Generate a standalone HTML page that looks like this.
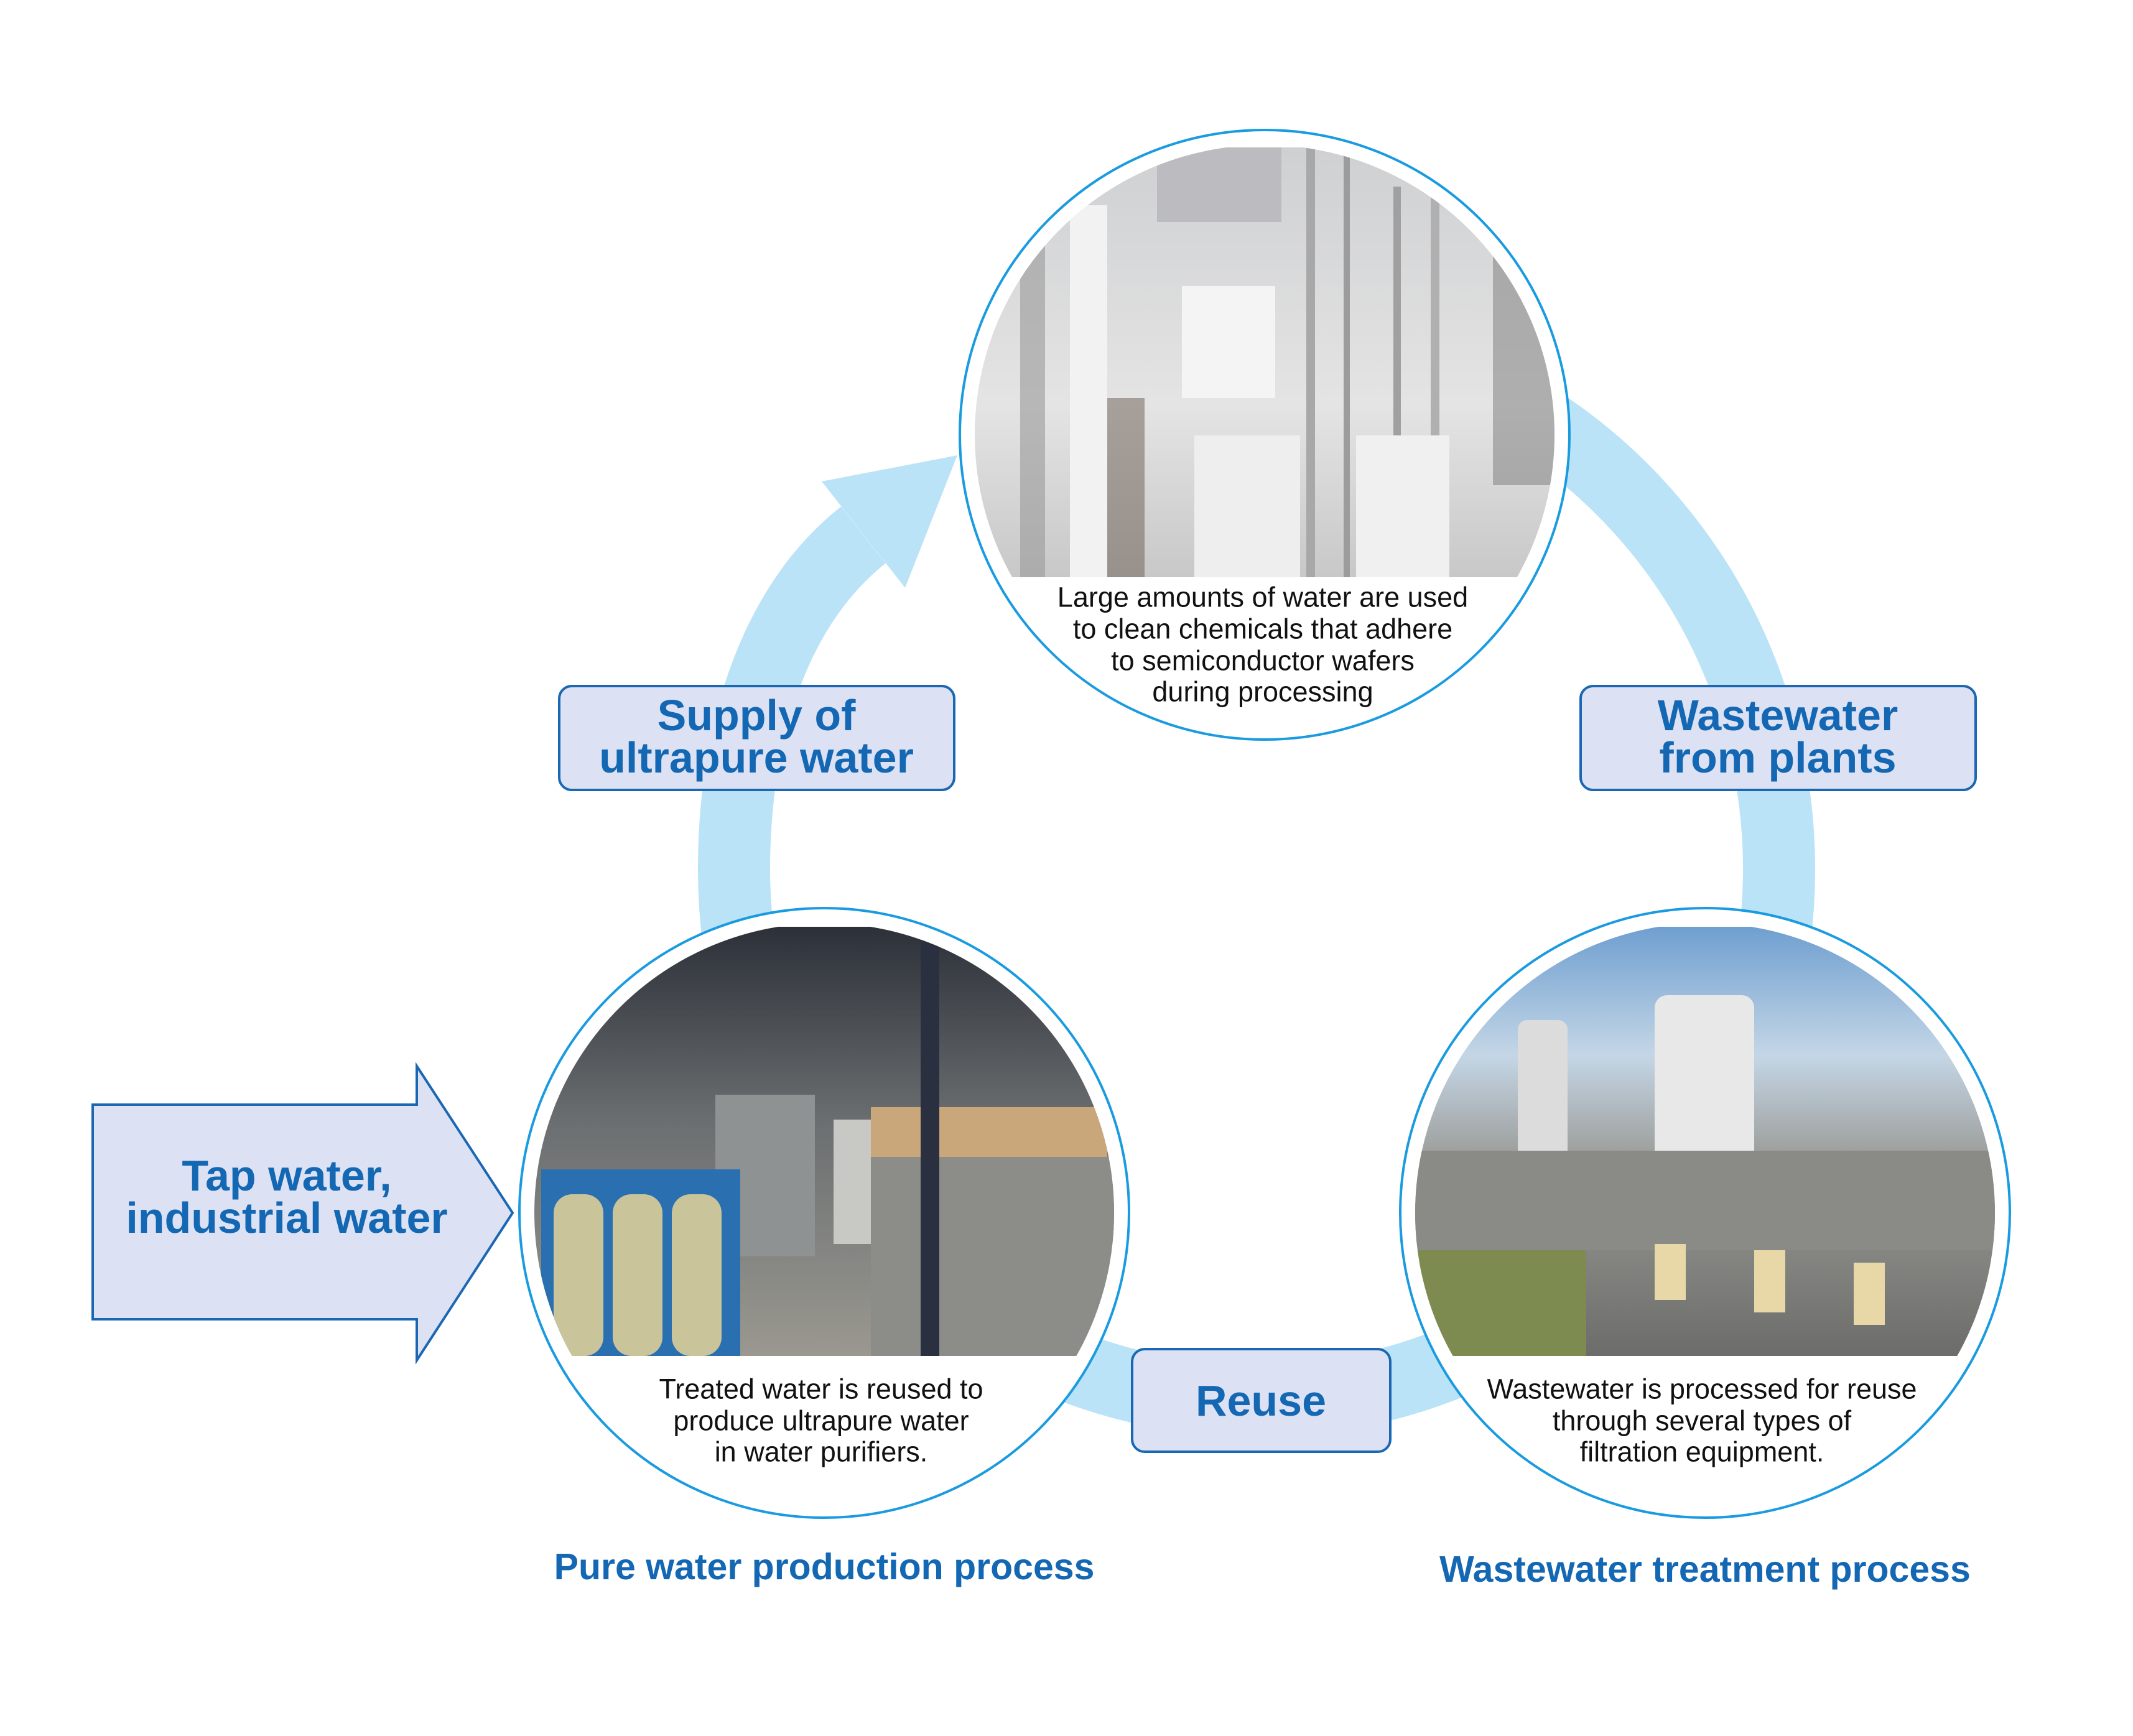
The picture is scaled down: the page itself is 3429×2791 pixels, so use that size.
<!DOCTYPE html>
<html><head><meta charset="utf-8"><style>html,body{margin:0;padding:0;background:#fff}svg{display:block}</style></head>
<body>
<svg width="3429" height="2791" viewBox="0 0 3429 2791" xmlns="http://www.w3.org/2000/svg" font-family="'Liberation Sans', sans-serif">
<defs>
<clipPath id="cT"><circle cx="2033" cy="699" r="466"/></clipPath>
<clipPath id="cL"><circle cx="1325" cy="1950" r="466"/></clipPath>
<clipPath id="cR"><circle cx="2741" cy="1950" r="466"/></clipPath>
<linearGradient id="gT" x1="0" y1="0" x2="0" y2="1"><stop offset="0" stop-color="#cfd0d2"/><stop offset="0.6" stop-color="#e4e4e4"/><stop offset="1" stop-color="#c8c8c8"/></linearGradient>
<linearGradient id="gL" x1="0" y1="0" x2="0" y2="1"><stop offset="0" stop-color="#2c3038"/><stop offset="0.45" stop-color="#6a6e70"/><stop offset="1" stop-color="#9a9890"/></linearGradient>
<linearGradient id="gR" x1="0" y1="0" x2="0" y2="1"><stop offset="0" stop-color="#6f9fd0"/><stop offset="0.3" stop-color="#c4d6e6"/><stop offset="0.55" stop-color="#9a9a96"/><stop offset="1" stop-color="#6c6c6a"/></linearGradient>
</defs>

<!-- cycle ring -->
<path d="M 2440 657 A 840 855 0 1 1 1180 1397 C 1180 1160 1254 965 1388 860" fill="none" stroke="#bae3f7" stroke-width="116"/>
<polygon points="1321,774 1539,732 1455,945" fill="#bae3f7"/>

<!-- tap water arrow -->
<polygon points="149,1776 670,1776 670,1714 824,1950 670,2187 670,2121 149,2121" fill="#dce2f3" stroke="#1a67b4" stroke-width="4"/>
<text x="461" y="1890" text-anchor="middle" dominant-baseline="central" font-size="70" font-weight="bold" fill="#1467b3">Tap water,</text>
<text x="461" y="1958" text-anchor="middle" dominant-baseline="central" font-size="70" font-weight="bold" fill="#1467b3">industrial water</text>

<!-- top circle -->
<circle cx="2033" cy="699" r="490" fill="#fff" stroke="#1a9be0" stroke-width="4"/>
<g clip-path="url(#cT)">
<rect x="1540" y="237" width="990" height="691" fill="url(#gT)"/>
<rect x="1640" y="300" width="40" height="628" fill="#9a9a9a" opacity="0.6"/>
<rect x="1720" y="330" width="60" height="600" fill="#f2f2f2"/>
<rect x="1860" y="237" width="200" height="120" fill="#bcbcc0"/>
<rect x="1900" y="460" width="150" height="180" fill="#f4f4f4"/>
<rect x="1920" y="700" width="170" height="228" fill="#eeeeee"/>
<rect x="2100" y="237" width="14" height="691" fill="#a8a8a8"/>
<rect x="2160" y="237" width="10" height="691" fill="#9c9c9c"/>
<rect x="2240" y="300" width="12" height="628" fill="#a0a0a0"/>
<rect x="2300" y="237" width="14" height="691" fill="#b0b0b0"/>
<rect x="2180" y="700" width="150" height="228" fill="#f0f0f0"/>
<rect x="1780" y="640" width="60" height="288" fill="#6a5a50" opacity="0.5"/>
<rect x="2400" y="380" width="130" height="400" fill="#7a7a7a" opacity="0.5"/>
<rect x="1540" y="928" width="990" height="300" fill="#fff"/>
</g>
<g font-size="45" fill="#111" text-anchor="middle" dominant-baseline="central">
<text x="2030" y="960">Large amounts of water are used</text>
<text x="2030" y="1011">to clean chemicals that adhere</text>
<text x="2030" y="1062">to semiconductor wafers</text>
<text x="2030" y="1112">during processing</text>
</g>

<!-- bottom-left circle -->
<circle cx="1325" cy="1950" r="490" fill="#fff" stroke="#1a9be0" stroke-width="4"/>
<g clip-path="url(#cL)">
<rect x="830" y="1490" width="990" height="690" fill="url(#gL)"/>
<rect x="1150" y="1760" width="160" height="260" fill="#8e9292"/>
<rect x="1340" y="1800" width="60" height="200" fill="#c8c8c4"/>
<rect x="1400" y="1780" width="380" height="80" fill="#c9a77a"/>
<rect x="1400" y="1860" width="400" height="320" fill="#8c8c88"/>
<rect x="1480" y="1500" width="30" height="680" fill="#2a3040"/>
<rect x="870" y="1880" width="320" height="300" fill="#2a6fb0"/>
<rect x="890" y="1920" width="80" height="260" rx="30" fill="#c9c49a"/>
<rect x="985" y="1920" width="80" height="260" rx="30" fill="#c9c49a"/>
<rect x="1080" y="1920" width="80" height="260" rx="30" fill="#c9c49a"/>
<rect x="830" y="2180" width="990" height="300" fill="#fff"/>
</g>
<g font-size="45" fill="#111" text-anchor="middle" dominant-baseline="central">
<text x="1320" y="2233">Treated water is reused to</text>
<text x="1320" y="2284">produce ultrapure water</text>
<text x="1320" y="2334">in water purifiers.</text>
</g>

<!-- bottom-right circle -->
<circle cx="2741" cy="1950" r="490" fill="#fff" stroke="#1a9be0" stroke-width="4"/>
<g clip-path="url(#cR)">
<rect x="2250" y="1490" width="990" height="690" fill="url(#gR)"/>
<rect x="2660" y="1600" width="160" height="300" rx="20" fill="#e8e8e8"/>
<rect x="2440" y="1640" width="80" height="260" rx="15" fill="#dcdcdc"/>
<rect x="2250" y="1850" width="990" height="160" fill="#8a8a86"/>
<rect x="2250" y="2010" width="300" height="170" fill="#7d8a50"/>
<rect x="2660" y="2000" width="50" height="90" fill="#e8d8a8"/>
<rect x="2820" y="2010" width="50" height="100" fill="#e8d8a8"/>
<rect x="2980" y="2030" width="50" height="100" fill="#e8d8a8"/>
<rect x="2250" y="2180" width="990" height="300" fill="#fff"/>
</g>
<g font-size="45" fill="#111" text-anchor="middle" dominant-baseline="central">
<text x="2736" y="2233">Wastewater is processed for reuse</text>
<text x="2736" y="2284">through several types of</text>
<text x="2736" y="2334">filtration equipment.</text>
</g>

<!-- label boxes -->
<g fill="#dce2f3" stroke="#1a67b4" stroke-width="4">
<rect x="899" y="1103" width="635" height="167" rx="20"/>
<rect x="2541" y="1103" width="635" height="167" rx="20"/>
<rect x="1820" y="2169" width="415" height="165" rx="20"/>
</g>
<g font-size="70" font-weight="bold" fill="#1467b3" text-anchor="middle" dominant-baseline="central">
<text x="1216" y="1150">Supply of</text>
<text x="1216" y="1218">ultrapure water</text>
<text x="2858" y="1150">Wastewater</text>
<text x="2858" y="1218">from plants</text>
<text x="2027" y="2252">Reuse</text>
</g>

<!-- titles -->
<g font-size="59" font-weight="bold" fill="#1467b3" text-anchor="middle" dominant-baseline="central">
<text x="1325" y="2519">Pure water production process</text>
<text x="2741" y="2523">Wastewater treatment process</text>
</g>
</svg>
</body></html>
